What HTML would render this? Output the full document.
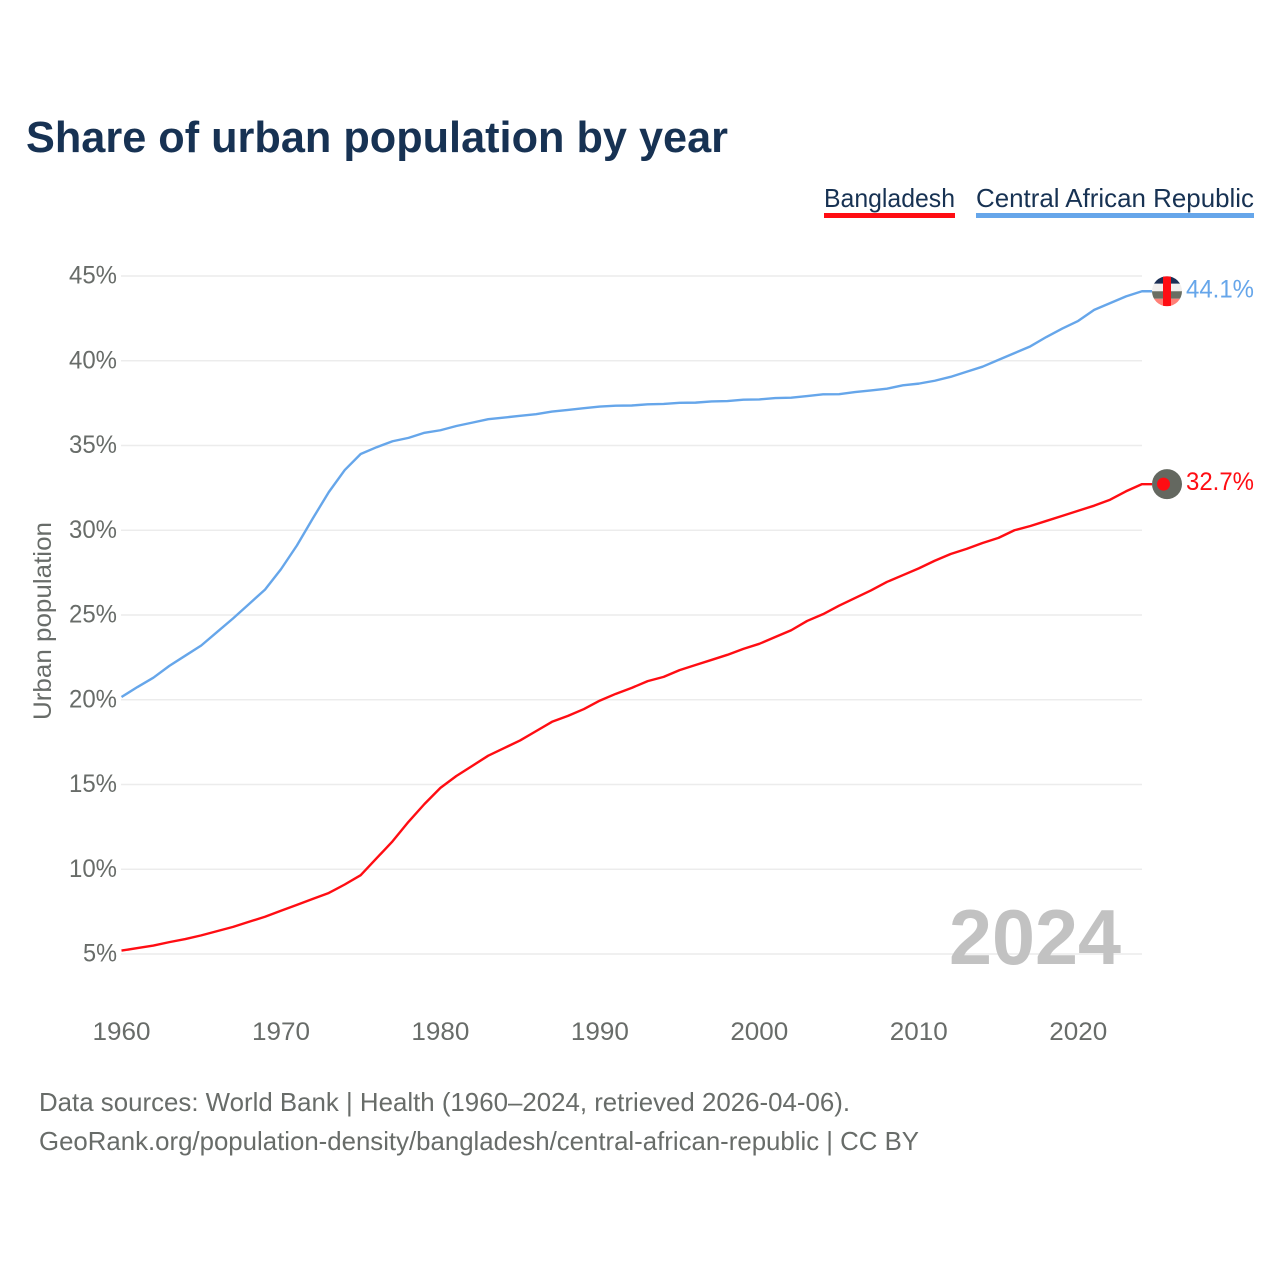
<!DOCTYPE html>
<html lang="en">
<head>
<meta charset="utf-8">
<title>Share of urban population by year</title>
<style>
html,body{margin:0;padding:0;background:#fff;}
svg{display:block;}
text{font-family:"Liberation Sans",sans-serif;}
</style>
</head>
<body>
<svg id="chart" xmlns="http://www.w3.org/2000/svg" width="1280" height="1280" viewBox="0 0 1280 1280">
  <rect x="0" y="0" width="1280" height="1280" fill="#ffffff"/>
  <text x="26" y="152" font-size="44" font-weight="700" fill="#173253" textLength="702" lengthAdjust="spacingAndGlyphs">Share of urban population by year</text>

  <g>
    <text x="824" y="207" font-size="26" fill="#173253" textLength="131" lengthAdjust="spacingAndGlyphs">Bangladesh</text>
    <rect x="824" y="213" width="131" height="5" fill="#ff0d13"/>
  </g>
  <g>
    <text x="976" y="207" font-size="26" fill="#173253" textLength="278" lengthAdjust="spacingAndGlyphs">Central African Republic</text>
    <rect x="976" y="213" width="278" height="5" fill="#66a6ea"/>
  </g>

  <text transform="translate(51 621) rotate(-90)" text-anchor="middle" font-size="25" fill="#686c69" textLength="198" lengthAdjust="spacingAndGlyphs">Urban population</text>

  <g id="grid"></g>
  <g id="yticks"></g>
  <g id="xticks"></g>

  <text x="949" y="964" font-size="78" font-weight="700" fill="#c2c2c2" textLength="172" lengthAdjust="spacingAndGlyphs">2024</text>

  <g id="series"></g>

  <defs>
    <clipPath id="flag-clip-caf"><circle id="caf-clip-circle" cx="1167" cy="290" r="15"/></clipPath>
  </defs>
  <g id="flags"></g>

  <text x="39" y="1111" font-size="26" fill="#686c69" textLength="811" lengthAdjust="spacingAndGlyphs">Data sources: World Bank | Health (1960–2024, retrieved 2026-04-06).</text>
  <text x="39" y="1150" font-size="26" fill="#686c69" textLength="880" lengthAdjust="spacingAndGlyphs">GeoRank.org/population-density/bangladesh/central-african-republic | CC BY</text>
</svg>
<script>
const years = [1960,1961,1962,1963,1964,1965,1966,1967,1968,1969,1970,1971,1972,1973,1974,1975,1976,1977,1978,1979,1980,1981,1982,1983,1984,1985,1986,1987,1988,1989,1990,1991,1992,1993,1994,1995,1996,1997,1998,1999,2000,2001,2002,2003,2004,2005,2006,2007,2008,2009,2010,2011,2012,2013,2014,2015,2016,2017,2018,2019,2020,2021,2022,2023,2024];
const bangladesh = [5.2,5.35,5.5,5.7,5.88,6.1,6.35,6.6,6.9,7.2,7.55,7.9,8.25,8.6,9.1,9.65,10.65,11.65,12.8,13.85,14.8,15.5,16.1,16.7,17.15,17.6,18.15,18.7,19.05,19.45,19.95,20.35,20.7,21.1,21.35,21.75,22.05,22.35,22.65,23,23.3,23.7,24.1,24.65,25.05,25.55,26,26.45,26.95,27.35,27.75,28.2,28.6,28.9,29.25,29.55,30,30.25,30.55,30.85,31.15,31.45,31.8,32.3,32.72];
const centralAfricanRepublic = [20.16,20.75,21.3,22,22.6,23.2,24,24.8,25.65,26.5,27.7,29.1,30.7,32.25,33.55,34.5,34.9,35.25,35.45,35.75,35.9,36.15,36.35,36.55,36.65,36.75,36.85,37,37.1,37.2,37.3,37.35,37.36,37.43,37.45,37.52,37.53,37.6,37.62,37.7,37.72,37.8,37.82,37.92,38.02,38.03,38.15,38.25,38.35,38.55,38.65,38.82,39.05,39.35,39.65,40.05,40.45,40.85,41.4,41.9,42.35,43,43.4,43.8,44.1];
const yTicks = [5,10,15,20,25,30,35,40,45];
const xTicks = [1960,1970,1980,1990,2000,2010,2020];

const NS = 'http://www.w3.org/2000/svg';
function xScale(year) { return 121.5 + (year - 1960) * (1142 - 121.5) / 64; }
function yScale(value) { return 954 - (value - 5) * (954 - 276) / 40; }
function make(tag, parent, attrs) {
  const el = document.createElementNS(NS, tag);
  for (const k in attrs) el.setAttribute(k, attrs[k]);
  parent.appendChild(el);
  return el;
}

const grid = document.getElementById('grid');
const yticksG = document.getElementById('yticks');
yTicks.forEach(function (t) {
  const line = make('line', grid, {x1: 121, x2: 1142, y1: yScale(t), y2: yScale(t), stroke: '#ececec', 'stroke-width': 1.5});
  
  
  const label = make('text', yticksG, {x: 117, y: yScale(t) + 7.5, 'text-anchor': 'end', 'font-size': 25, fill: '#686c69', textLength: t < 10 ? 34 : 48, lengthAdjust: 'spacingAndGlyphs'});
  
  
  label.textContent = t + '%';
});

const xticksG = document.getElementById('xticks');
xTicks.forEach(function (t) {
  const label = make('text', xticksG, {x: xScale(t), y: 1040, 'text-anchor': 'middle', 'font-size': 25, fill: '#686c69', textLength: 58, lengthAdjust: 'spacingAndGlyphs'});
  
  
  label.textContent = t;
});

const seriesG = document.getElementById('series');
function drawSeries(values, color, name) {
  let d = values.map(function (v, i) {
    return (i ? 'L' : 'M') + xScale(years[i]).toFixed(2) + ' ' + yScale(v).toFixed(2);
  }).join(' ');
  d += ' L1152 ' + yScale(values[values.length - 1]).toFixed(2);
  const path = make('path', seriesG, {d: d, fill: 'none', stroke: color, 'stroke-width': 2.4, 'stroke-linejoin': 'round'});
  
  
}
drawSeries(centralAfricanRepublic, '#66a6ea', 'central-african-republic');
drawSeries(bangladesh, '#ff0d13', 'bangladesh');

const flags = document.getElementById('flags');
const cafLast = centralAfricanRepublic[centralAfricanRepublic.length - 1];
const bgdLast = bangladesh[bangladesh.length - 1];
const cafY = yScale(cafLast);
const bgdY = yScale(bgdLast);

document.getElementById('caf-clip-circle').setAttribute('cy', cafY);
const cafFlag = make('g', flags, {'clip-path': 'url(#flag-clip-caf)'});


[['#1c2f55', -15, 7.5], ['#f2efee', -7.5, 7.5], ['#6a6e62', 0, 7.5], ['#ff8077', 7.5, 7.5]].forEach(function (b) {
  make('rect', cafFlag, {x: 1152, y: cafY + b[1], width: 30, height: b[2], fill: b[0]});
});
make('rect', cafFlag, {x: 1163, y: cafY - 15, width: 8, height: 30, fill: '#ff0d13'});

const bgdFlag = make('g', flags, {});


make('circle', bgdFlag, {cx: 1167, cy: bgdY, r: 15, fill: '#646860'});
make('circle', bgdFlag, {cx: 1163.5, cy: bgdY, r: 6.5, fill: '#ff0d13'});

const cafLabel = make('text', flags, {x: 1186, y: cafY + 6, 'font-size': 25, fill: '#66a6ea', textLength: 68, lengthAdjust: 'spacingAndGlyphs'});


cafLabel.textContent = cafLast.toFixed(1) + '%';

const bgdLabel = make('text', flags, {x: 1186, y: bgdY + 6, 'font-size': 25, fill: '#ff0d13', textLength: 68, lengthAdjust: 'spacingAndGlyphs'});


bgdLabel.textContent = bgdLast.toFixed(1) + '%';
</script>
</body>
</html>
